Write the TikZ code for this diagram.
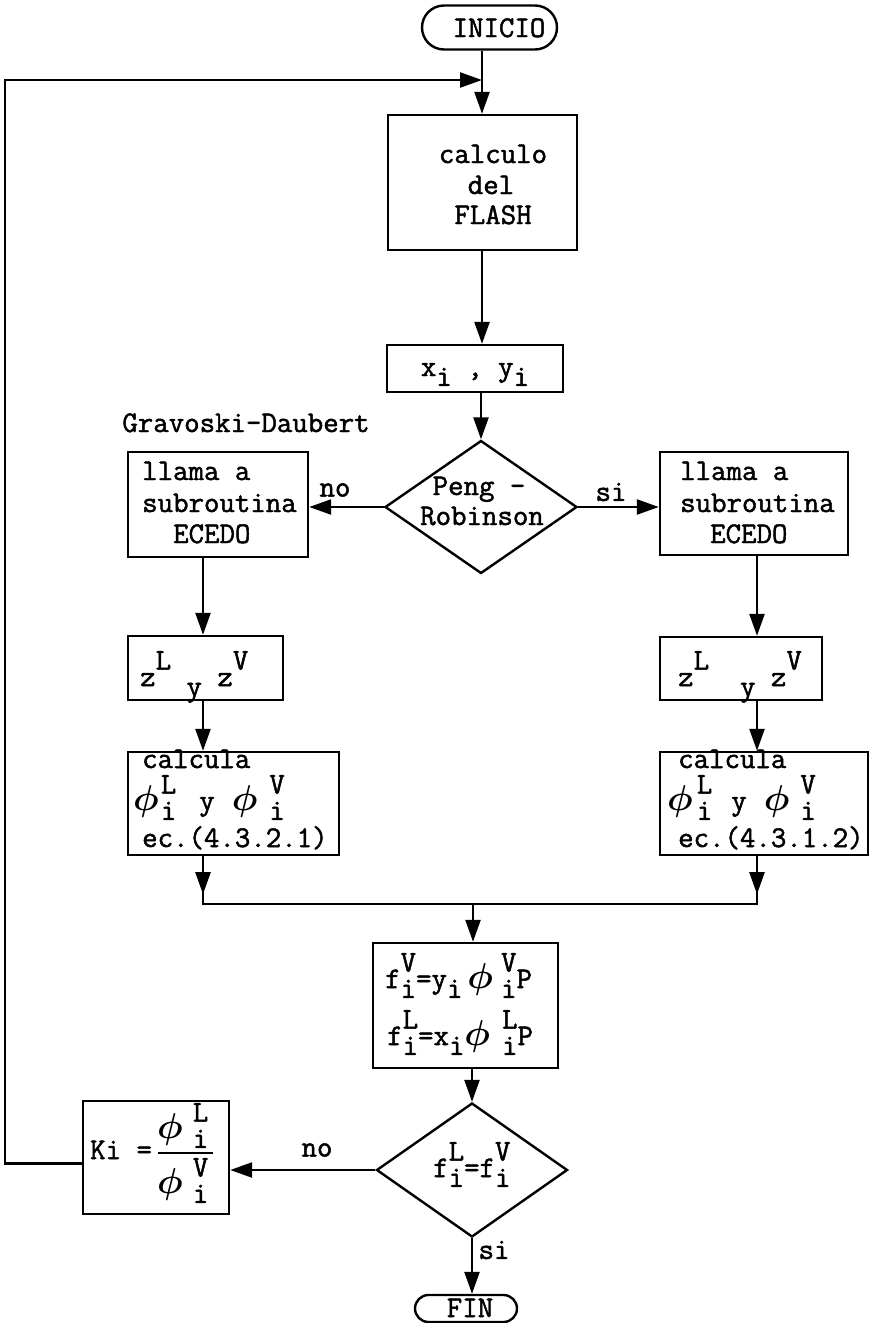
\documentclass[tikz,border=0pt]{standalone}
\usepackage{fix-cm}
\usepackage{amsmath}
\usepackage{fontspec}
\setmonofont{Latin Modern Mono}[FakeBold=1.6]
\usetikzlibrary{arrows.meta,shapes.geometric,shapes.misc,calc}
\newcommand\myup[1]{\raisebox{0.55em}{#1}}
\newcommand\mydn[1]{\raisebox{-0.33em}{#1}}
\newcommand\stk[2]{\rlap{\myup{#1}}\mydn{#2}}
\newcommand\myphi{\scalebox{1.2}{$\boldsymbol{\phi}$}}
\begin{document}
\begin{tikzpicture}[x=1pt,y=-1pt,
  font=\fontsize{30}{31}\selectfont\ttfamily,
  proc/.style={draw, line width=2.4pt, rectangle, inner sep=0pt, align=center},
  term/.style={draw, line width=2.4pt, rounded rectangle, inner sep=0pt},
  dec/.style={draw, line width=2.4pt, diamond, inner sep=0pt},
  conn/.style={line width=2.4pt},
  arr/.style={line width=2.4pt, -{Triangle[length=22pt,width=15pt]}},
  lbl/.style={inner sep=0pt},
  txt/.style={inner sep=0pt, anchor=base west},
  txtc/.style={inner sep=0pt, anchor=base}]
\fill[white] (0,0) rectangle (871,1323);
\useasboundingbox (0,0) rectangle (871,1323);

% column coordinates
\coordinate (colM) at (482,0);
\coordinate (colL) at (203,0);
\coordinate (colR) at (757,0);
\coordinate (fbL) at (5,0);
\coordinate (fbT) at (482,80);
\coordinate (mL) at (203,904);
\coordinate (mR) at (757,904);
\coordinate (mC) at (473,904);

% nodes
\node[term, minimum width=135pt, minimum height=44pt] (inicio) at (489.5,27.5) {};
\node[txtc] (iniciot) at (499,37) {INICIO};
\node[proc, minimum width=189pt, minimum height=135pt] (flash) at (482.5,182.5) {};
\node[txtc] (fl1) at (493,163) {calculo};
\node[txtc] (fl2) at (491,194) {del};
\node[txtc] (fl3) at (493,224) {FLASH};
\node[proc, minimum width=176pt, minimum height=47pt] (xy) at (475,368.5) {};
\node[txtc] (xyt) at (475,376) {x\mydn{i} , y\mydn{i}};

\node[dec, minimum width=192pt, minimum height=133pt] (peng) at (481,507) {};
\node[txtc] (peng1) at (479,495) {Peng -};
\node[txtc] (peng2) at (482,525) {Robinson};

\node[txtc] (grav) at (246,432) {Gravoski-Daubert};

\node[proc, minimum width=180pt, minimum height=105pt] (llamaL) at (218,504.5) {};
\node[txt] (lL1) at (142,480) {llama a};
\node[txt] (lL2) at (142,512) {subroutina};
\node[txt] (lL3) at (173,543) {ECEDO};
\node[proc, minimum width=188pt, minimum height=103pt] (llamaR) at (754,503.5) {};
\node[txt] (lR1) at (680,480) {llama a};
\node[txt] (lR2) at (680,512) {subroutina};
\node[txt] (lR3) at (710,543) {ECEDO};
\node[lbl] (noA) at (335,490) {no};
\node[lbl] (siA) at (611,492) {si};

\node[proc, minimum width=155pt, minimum height=64pt] (zL) at (205.5,668) {};
\node[txt] (zLt) at (140,686) {z\myup{L} \mydn{y} z\myup{V}};
\node[proc, minimum width=162pt, minimum height=63pt] (zR) at (741,668.5) {};
\node[txt] (zRt) at (678,686) {z\myup{L}\hspace{31pt}\mydn{y} z\myup{V}};

\node[proc, minimum width=211pt, minimum height=103pt] (calL) at (233.5,803.5) {};
\node[txt] (cL1) at (142,768) {calcula};
\node[txt] (cL2) at (133,810) {\myphi\hspace{2pt}\stk{L}{i}\hspace{23pt}y\hspace{17pt}\myphi\hspace{12pt}\stk{V}{i}};
\node[txt] (cL3) at (142,847) {ec.(4.3.2.1)};

\node[proc, minimum width=208pt, minimum height=103pt] (calR) at (764,803.5) {};
\node[txt] (cR1) at (678,768) {calcula};
\node[txt] (cR2) at (667,810) {\myphi\hspace{4pt}\stk{L}{i}\hspace{19pt}y\hspace{17pt}\myphi\hspace{11pt}\stk{V}{i}};
\node[txt] (cR3) at (678,847) {ec.(4.3.1.2)};

\node[proc, minimum width=185pt, minimum height=125pt] (fbox) at (465.5,1005.5) {};
\node[txt] (f1) at (385,988) {f\stk{V}{i}=y\mydn{i}\hspace{5pt}\myphi\hspace{8pt}\stk{V}{i}P};
\node[txt] (f2) at (387,1045) {f\stk{L}{i}=x\mydn{i}\myphi\hspace{12pt}\stk{L}{i}P};

\node[dec, minimum width=191pt, minimum height=134pt] (eq) at (472,1170) {};
\node[txt] (eqt) at (433,1177) {f\stk{L}{i}=f\stk{V}{i}};
\node[lbl] (noB) at (317,1150) {no};

\node[proc, minimum width=146pt, minimum height=113pt] (ki) at (156,1157.5) {};
\node[txt] (kit) at (90,1159) {Ki =};
\node[txt] (kin) at (157,1138) {\myphi\hspace{10pt}\stk{L}{i}};
\node[txt] (kid) at (157,1193) {\myphi\hspace{10pt}\stk{V}{i}};
\draw[line width=2pt] (158,1153) -- (213,1153);

\node[term, minimum width=102pt, minimum height=27pt] (fin) at (466,1308.5) {};
\node[txtc] (fint) at (470,1317) {FIN};
\node[lbl] (siB) at (494,1250) {si};

% connectors
\draw[arr] (inicio.south -| colM) -- (flash.north -| colM);
\draw[arr] ($(ki.west)+(0,6)$) -- ($(ki.west -| fbL)+(0,6)$) -- (fbL |- fbT) -- (fbT);
\draw[arr] (flash.south -| colM) -- (xy.north -| colM);
\draw[arr] (xy.south -| peng.north) -- (peng.north);
\draw[arr] (peng.west) -- (peng.west -| llamaL.east);
\draw[arr] (peng.east) -- (peng.east -| llamaR.west);
\draw[arr] (llamaL.south -| colL) -- (zL.north -| colL);
\draw[arr] (zL.south -| colL) -- (calL.north -| colL);
\draw[arr] (llamaR.south -| colR) -- (zR.north -| colR);
\draw[arr] (zR.south -| colR) -- (calR.north -| colR);
\draw[conn] (calL.south -| colL) -- (mL) -- (mR) -- (calR.south -| colR);
\draw[arr] (calL.south -| colL) -- ++(0,38);
\draw[arr] (calR.south -| colR) -- ++(0,38);
\draw[arr] (mC) -- (fbox.north -| mC);
\draw[arr] (fbox.south -| eq.north) -- (eq.north);
\draw[arr] (eq.west) -- (eq.west -| ki.east);
\draw[arr] (eq.south) -- (eq.south |- fin.north);
\end{tikzpicture}
\end{document}
